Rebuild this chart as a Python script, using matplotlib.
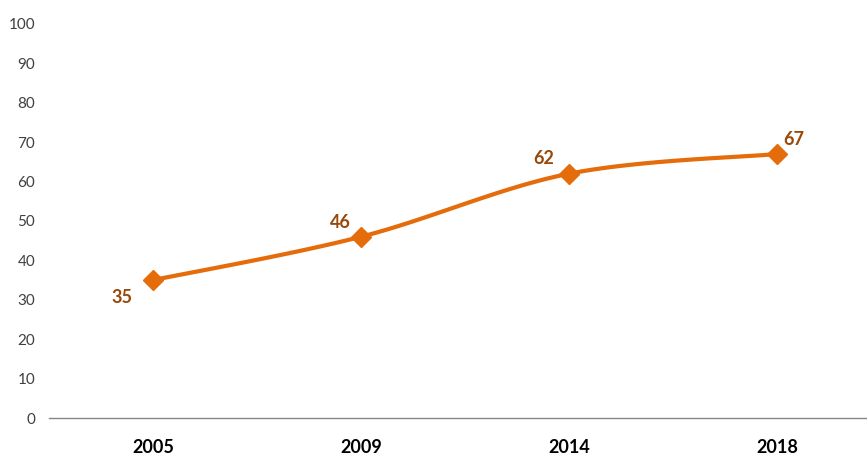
import matplotlib.pyplot as plt
import numpy as np

plt.rcParams['font.family'] = ['Lato', 'DejaVu Sans']

years = ['2005', '2009', '2014', '2018']
values = [35, 46, 62, 67]
label_offsets = [(-31, -17), (-21, 14), (-25, 15), (17, 15)]

LINE = '#E46C0A'
LABEL = '#984807'


def smooth(x, y, n=40):
    # Catmull-Rom style Bezier smoothing, like Excel's smoothed line
    x = np.asarray(x, float)
    y = np.asarray(y, float)
    px = np.concatenate([[x[0]], x, [x[-1]]])
    py = np.concatenate([[y[0]], y, [y[-1]]])
    xs, ys = [], []
    t = np.linspace(0, 1, n)
    for i in range(1, len(px) - 2):
        p0 = np.array([px[i], py[i]])
        p3 = np.array([px[i + 1], py[i + 1]])
        p1 = p0 + (np.array([px[i + 1], py[i + 1]]) - np.array([px[i - 1], py[i - 1]])) / 6
        p2 = p3 - (np.array([px[i + 2], py[i + 2]]) - np.array([px[i], py[i]])) / 6
        b = ((1 - t) ** 3)[:, None] * p0 + (3 * (1 - t) ** 2 * t)[:, None] * p1 \
            + (3 * (1 - t) * t ** 2)[:, None] * p2 + (t ** 3)[:, None] * p3
        xs.extend(b[:, 0])
        ys.extend(b[:, 1])
    return np.array(xs), np.array(ys)


fig = plt.figure(figsize=(8.67, 4.55), dpi=100)
ax = fig.add_axes([49 / 867, 37 / 455, 818 / 867, 394 / 455])

xpos = np.arange(len(years))
sx, sy = smooth(xpos, values)
ax.plot(sx, sy, color=LINE, linewidth=3, solid_capstyle='round', zorder=2)
ax.plot(xpos, values, linestyle='none', marker='D', markersize=10,
        color=LINE, zorder=3)

for x, v, off in zip(xpos, values, label_offsets):
    ax.annotate(str(v), (x, v), xytext=off, textcoords='offset pixels',
                ha='center', va='center', fontsize=13, fontweight='bold',
                color=LABEL)

ax.set_xlim(-0.5, 818 / 208 - 0.5)
ax.set_ylim(0, 100)
ax.set_yticks(range(0, 101, 10))
ax.set_xticks(xpos)
ax.set_xticklabels(years, fontsize=13, fontweight='bold')
ax.tick_params(axis='y', length=0, labelsize=11, colors='#404040', pad=10)
ax.tick_params(axis='x', length=0, pad=15)

for side in ['top', 'right', 'left']:
    ax.spines[side].set_visible(False)
ax.spines['bottom'].set_color('#868686')
ax.spines['bottom'].set_linewidth(1)

fig.savefig('out.png', dpi=100)
